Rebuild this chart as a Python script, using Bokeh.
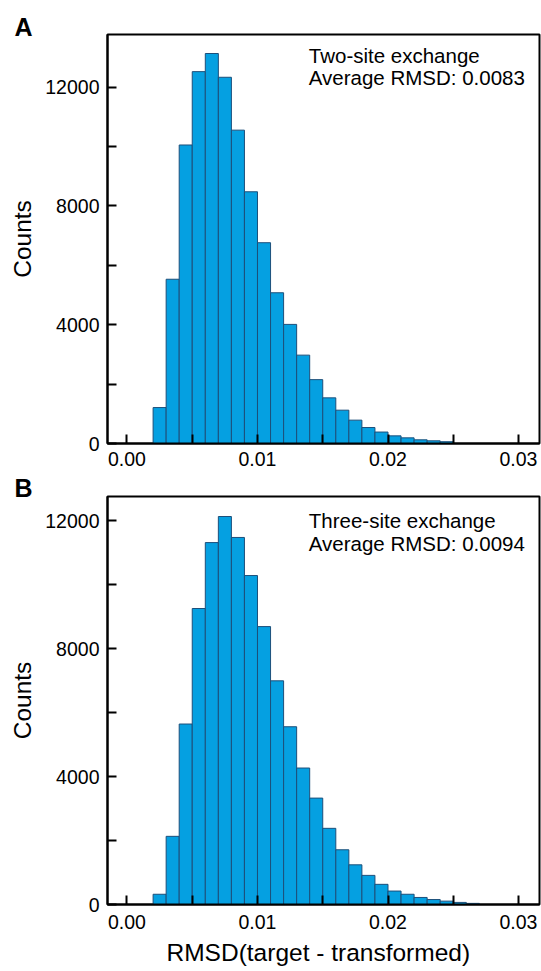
from bokeh.plotting import figure
from bokeh.layouts import column
from bokeh.models import FixedTicker, PrintfTickFormatter, Label, Range1d, Title
from bokeh.embed import file_html
from bokeh.resources import INLINE

# ---- data ----
bin_edges_a = [0.002, 0.003, 0.004, 0.005, 0.006, 0.007, 0.008, 0.009, 0.010,
               0.011, 0.012, 0.013, 0.014, 0.015, 0.016, 0.017, 0.018, 0.019,
               0.020, 0.021, 0.022, 0.023, 0.024, 0.025]
counts_a = [1210, 5530, 10050, 12520, 13130, 12330, 10550, 8475, 6760, 5075,
            4010, 2975, 2150, 1537, 1122, 786, 538, 386, 257, 190, 124, 90, 60]

bin_edges_b = [0.002, 0.003, 0.004, 0.005, 0.006, 0.007, 0.008, 0.009, 0.010,
               0.011, 0.012, 0.013, 0.014, 0.015, 0.016, 0.017, 0.018, 0.019,
               0.020, 0.021, 0.022, 0.023, 0.024, 0.025, 0.026, 0.027]
counts_b = [320, 2130, 5640, 9250, 11310, 12125, 11470, 10280, 8685, 6990,
            5555, 4265, 3325, 2380, 1710, 1240, 910, 630, 420, 320, 220, 155,
            105, 65, 35]

x_ticks = [0.00, 0.01, 0.02, 0.03]
x_minor_ticks = [0.005, 0.015, 0.025]
y_ticks = [0, 4000, 8000, 12000]
y_minor_ticks = [2000, 6000, 10000]

title_a = ["Two-site exchange", "Average RMSD: 0.0083"]
title_b = ["Three-site exchange", "Average RMSD: 0.0094"]
x_label = "RMSD(target - transformed)"
y_label = "Counts"

FONT = "Liberation Sans"
FILL = "#05a0e1"
EDGE = "#1d4f7a"
X_START, X_END = -0.001494, 0.031609


def make_panel(edges, counts, y_max, letter, texts, text_y,
               height, top_border, bottom_border, title_standoff,
               xlabel_standoff, show_xlabel):
    p = figure(width=541, height=height, output_backend="svg",
               toolbar_location=None, tools="",
               x_range=Range1d(X_START, X_END), y_range=Range1d(0, y_max),
               min_border_left=107, min_border_right=2,
               min_border_top=top_border, min_border_bottom=bottom_border)
    p.background_fill_color = "white"
    p.border_fill_color = "white"
    p.outline_line_color = "black"
    p.outline_line_width = 2
    p.xgrid.grid_line_color = None
    p.ygrid.grid_line_color = None

    p.title.text = letter
    p.title.text_font = FONT
    p.title.text_font_size = "25px"
    p.title.text_font_style = "bold"
    p.title.text_color = "black"
    p.title.align = "left"
    p.title.offset = -93
    p.title.standoff = title_standoff

    p.quad(left=edges[:-1], right=edges[1:], bottom=0, top=counts,
           fill_color=FILL, line_color=EDGE, line_width=1)

    xa = p.xaxis[0]
    xa.ticker = FixedTicker(ticks=x_ticks, minor_ticks=x_minor_ticks)
    xa.formatter = PrintfTickFormatter(format="%.2f")
    ya = p.yaxis[0]
    ya.ticker = FixedTicker(ticks=y_ticks, minor_ticks=y_minor_ticks)
    ya.formatter = PrintfTickFormatter(format="%d")
    for ax in (xa, ya):
        ax.axis_line_color = "black"
        ax.axis_line_width = 2
        ax.major_tick_in = 9
        ax.major_tick_out = 0
        ax.minor_tick_in = 9
        ax.minor_tick_out = 0
        ax.major_tick_line_width = 2
        ax.minor_tick_line_width = 2
        ax.major_tick_line_color = "black"
        ax.minor_tick_line_color = "black"
        ax.major_label_text_font = FONT
        ax.major_label_text_font_size = "19.5px"
        ax.major_label_text_color = "black"
        ax.axis_label_text_font = FONT
        ax.axis_label_text_font_size = "24.5px"
        ax.axis_label_text_font_style = "normal"
        ax.axis_label_text_color = "black"
    xa.major_label_standoff = xlabel_standoff
    ya.major_label_standoff = 8
    ya.axis_label = y_label
    ya.axis_label_standoff = 6

    if show_xlabel:
        xt = Title(text=x_label, text_font=FONT, text_font_size="24.5px",
                   text_font_style="normal", text_color="black",
                   align="left", offset=59, standoff=10,
                   vertical_align="bottom")
        p.add_layout(xt, "below")

    for t, ty in zip(texts, text_y):
        p.add_layout(Label(x=0.01393, y=ty, text=t, text_font=FONT,
                           text_font_size="20.5px", text_color="black",
                           text_align="left", text_baseline="alphabetic"))
    return p


pa = make_panel(bin_edges_a, counts_a, 13770, "A", title_a, [13060, 12330],
                height=473, top_border=34, bottom_border=30,
                title_standoff=-13, xlabel_standoff=8, show_xlabel=False)
pb = make_panel(bin_edges_b, counts_b, 12750, "B", title_b, [11990, 11290],
                height=498, top_border=23, bottom_border=67,
                title_standoff=-11, xlabel_standoff=10, show_xlabel=True)

layout = column(pa, pb, spacing=0)
open("out.html", "w").write(file_html(layout, INLINE))
